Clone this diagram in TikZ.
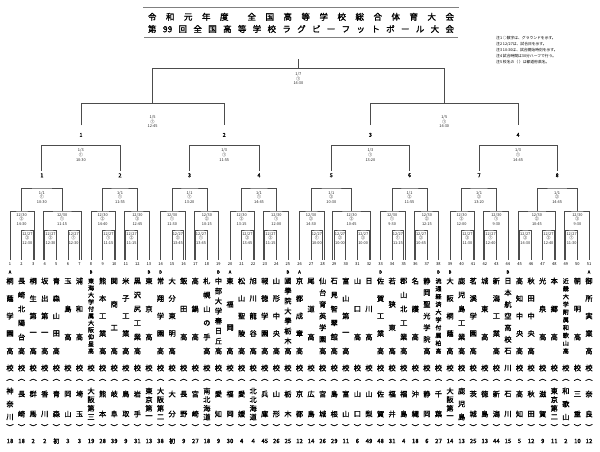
\documentclass[tikz,border=0pt]{standalone}
\usepackage{fontspec}
\newfontfamily\jp{Noto Sans CJK JP}
\newfontfamily\jpb{Noto Sans CJK JP}[FakeBold=1.5]
\usetikzlibrary{positioning, calc}

\def\nmfs{7.2}
\tikzset{
	brk/.style={draw=black!70, line width=0.7pt},
	info/.style={font=\jp\fontsize{3.9}{4.6}\selectfont, align=center, inner sep=0pt, text=black!85},
	lbl/.style={font=\jpb\fontsize{5.5}{6}\selectfont, inner sep=0.5pt},
	tnum/.style={font=\jp\fontsize{4}{4}\selectfont, inner sep=0pt},
	seedmark/.style={font=\jpb\fontsize{4.2}{4.2}\selectfont, inner sep=0pt},
	nm/.style={font=\jpb\fontsize{\nmfs}{\nmfs}\selectfont, inner sep=0pt},
	paren/.style={font=\jpb\fontsize{7.2}{7.2}\selectfont, inner sep=0pt, rotate=-90},
	cnt/.style={font=\jpb\fontsize{6}{6}\selectfont, inner sep=0pt},
	ttl/.style={font=\jpb\fontsize{8.5}{9}\selectfont, inner sep=0pt},
	declare function={tx(\i)=10+11.58*(\i-1);},
}

% one column: number, seed, name, tail, prefecture, appearances
\newcommand\school[6]{%
	\coordinate (t#1) at ({tx(#1)},260);
	\node[tnum] (n#1) at ({tx(#1)},264.5) {#1};
	\node[seedmark] (sd#1) at ({tx(#1)},272) {#2};
	\foreach \c [count=\k] in {#3} {\xdef\nc{\k}}%
	\ifnum\nc>8 \gdef\nmfs{6}\else\gdef\nmfs{7.2}\fi
	\pgfmathsetmacro\stp{min(70/(\nc-1),28)}%
	\foreach \c [count=\k] in {#3}
		{\node[nm] (nm#1-\k) at ({tx(#1)},{281+(\k-1)*\stp}) {\c};}%
	\gdef\nmfs{7.2}%
	\node[nm] (tl#1) at ({tx(#1)},368) {#4};
	\node[paren] (pl#1) at ({tx(#1)},377.5) {（};
	\foreach \c [count=\k] in {#5} {\xdef\np{\k}}%
	\pgfmathsetmacro\pst{min(26/(\np-1),20)}%
	\foreach \c [count=\k] in {#5}
		{\node[nm] (pf#1-\k) at ({tx(#1)},{404-(\np-1)*\pst/2+(\k-1)*\pst}) {\c};}%
	\node[paren] (pr#1) at ({tx(#1)},427.5) {）};
	\node[cnt] (c#1) at ({tx(#1)},441) {#6};
}

\begin{document}
\begin{tikzpicture}[x=1pt, y=-1pt]
	\useasboundingbox (0,0) rectangle (600,452);

	% title
	\node[draw=black!50, double, double distance=0.6pt, line width=0.5pt,
		minimum width=315pt, minimum height=30pt, inner sep=0pt] (tbox) at (300.8,23.3) {};
	\node[ttl] (ttl1) at (301,16.8)
		{\makebox[306pt][s]{令 和 元 年 度 \ 全 国 高 等 学 校 総 合 体 育 大 会}};
	\node[ttl] (ttl2) at (301,29)
		{\makebox[306pt][s]{第 99 回 全 国 高 等 学 校 ラ グ ビ ー フ ッ ト ボ ー ル 大 会}};
	\node[font=\jp\fontsize{3.8}{6}\selectfont, align=left, anchor=north west, inner sep=0pt]
		(notes) at (496,36.5) {注1 ○数字は、グラウンドを示す。\\
		注2 12/27は、試合日を示す。\\
		注3 10:30は、試合開始時刻を示す。\\
		注4 試合時間は30分ハーフで行う。\\
		注5 校名の（ ）は都道府県名。};

	% schools
	\school{1}{A}{桐,蔭,学,園,高}{校}{神,奈,川}{18}
	\school{2}{}{長,崎,北,陽,台,高}{校}{長,崎}{18}
	\school{3}{}{桐,生,第,一,高}{校}{群,馬}{2}
	\school{4}{}{坂,出,第,一,高}{校}{香,川}{2}
	\school{5}{}{青,森,山,田,高}{校}{青,森}{初}
	\school{6}{}{玉,島,高}{校}{岡,山}{3}
	\school{7}{}{浦,和,高}{校}{埼,玉}{3}
	\school{8}{B}{東,海,大,学,付,属,大,阪,仰,星,高}{校}{大,阪,第,三}{19}
	\school{9}{}{熊,本,工,業,高}{校}{熊,本}{28}
	\school{10}{}{関,商,工,高}{校}{岐,阜}{39}
	\school{11}{}{米,子,工,業,高}{校}{鳥,取}{9}
	\school{12}{}{黒,沢,尻,工,業,高}{校}{岩,手}{31}
	\school{13}{B}{東,京,高}{校}{東,京,第,一}{13}
	\school{14}{B}{常,翔,学,園,高}{校}{大,阪,第,二}{38}
	\school{15}{}{大,分,東,明,高}{校}{大,分}{初}
	\school{16}{}{飯,田,高}{校}{長,野}{9}
	\school{17}{}{高,鍋,高}{校}{宮,崎}{27}
	\school{18}{}{札,幌,山,の,手,高}{校}{南,北,海,道}{18}
	\school{19}{B}{中,部,大,学,春,日,丘,高}{校}{愛,知}{9}
	\school{20}{A}{東,福,岡,高}{校}{福,岡}{30}
	\school{21}{}{松,山,聖,陵,高}{校}{愛,媛}{4}
	\school{22}{}{旭,川,龍,谷,高}{校}{北,北,海,道}{4}
	\school{23}{}{報,徳,学,園,高}{校}{兵,庫}{45}
	\school{24}{}{山,形,中,央,高}{校}{山,形}{26}
	\school{25}{B}{國,學,院,大,學,栃,木,高}{校}{栃,木}{25}
	\school{26}{A}{京,都,成,章,高}{校}{京,都}{12}
	\school{27}{}{尾,道,高}{校}{広,島}{14}
	\school{28}{}{仙,台,育,英,学,園,高}{校}{宮,城}{26}
	\school{29}{}{石,見,智,翠,館,高}{校}{島,根}{29}
	\school{30}{}{富,山,第,一,高}{校}{富,山}{11}
	\school{31}{}{山,口,高}{校}{山,口}{6}
	\school{32}{}{日,川,高}{校}{山,梨}{49}
	\school{33}{B}{佐,賀,工,業,高}{校}{佐,賀}{48}
	\school{34}{}{若,狭,東,高}{校}{福,井}{31}
	\school{35}{}{郡,山,北,工,業,高}{校}{福,島}{4}
	\school{36}{}{名,護,高}{校}{沖,縄}{18}
	\school{37}{}{静,岡,聖,光,学,院,高}{校}{静,岡}{6}
	\school{38}{B}{流,通,経,済,大,学,付,属,柏,高}{校}{千,葉}{27}
	\school{39}{B}{大,阪,桐,蔭,高}{校}{大,阪,第,一}{14}
	\school{40}{}{鹿,児,島,工,業,高}{校}{鹿,児,島}{13}
	\school{41}{}{茗,溪,学,園,高}{校}{茨,城}{25}
	\school{42}{}{城,東,高}{校}{徳,島}{13}
	\school{43}{}{新,潟,工,業,高}{校}{新,潟}{44}
	\school{44}{B}{日,本,航,空,高,校,石}{川}{石,川}{15}
	\school{45}{}{高,知,中,央,高}{校}{高,知}{5}
	\school{46}{}{秋,田,中,央,高}{校}{秋,田}{12}
	\school{47}{}{光,泉,高}{校}{滋,賀}{9}
	\school{48}{}{本,郷,高}{校}{東,京,第,二}{11}
	\school{49}{}{近,畿,大,学,附,属,和,歌,山,高}{校}{和,歌,山}{2}
	\school{50}{}{朝,明,高}{校}{三,重}{10}
	\school{51}{A}{御,所,実,業,高}{校}{奈,良}{12}

	% first round 12/27
	\foreach \n/\a/\b/\tm/\g in {1/2/3/12:30/②, 2/4/5/12:30/③, 3/6/7/12:30/①,
		4/9/10/11:15/①, 5/11/12/11:15/②, 6/15/16/13:45/③, 7/17/18/13:45/①,
		8/21/22/13:45/②, 9/23/24/11:15/③, 10/27/28/10:00/①, 11/29/30/10:00/②,
		12/31/32/10:00/③, 13/34/35/11:15/①, 14/36/37/10:45/②, 15/40/41/11:30/③,
		16/42/43/12:40/①, 17/45/46/14:30/②, 18/47/48/12:40/③, 19/49/50/11:30/①}{
		\coordinate (f\n) at ({(tx(\a)+tx(\b))/2},230);
		\draw[brk] (t\a) |- (f\n) -| (t\b);
		\node[info, below=2pt of f\n] (fi\n) {12/27\\\g\\\tm};
	}

	% second round 12/30
	\foreach \n/\a/\b/\la/\rb/\tm/\g in {1/1/3/0/1.4/14:30/③, 2/4/7/-1.4/1.4/11:15/①,
		3/8/10/0/1.4/14:40/②, 4/11/13/-1.4/0/12:45/③, 5/14/16/0/1.4/11:30/①,
		6/17/19/-1.4/0/10:15/②, 7/20/22/0/1.4/13:15/③, 8/23/25/-1.4/0/12:00/①,
		9/26/28/0/1.4/14:30/②, 10/29/32/-1.4/1.4/10:45/③, 11/33/35/0/1.4/9:30/①,
		12/36/38/-1.4/0/12:15/②, 13/39/41/0/1.4/12:00/③, 14/42/44/-1.4/0/9:30/①,
		15/45/48/-1.4/1.4/10:45/②, 16/49/51/-1.4/0/9:30/③}{
		\coordinate (s\n) at ({(tx(\a)+tx(\b))/2},211);
		\draw[brk] ([xshift=\la pt]t\a) |- (s\n) -| ([xshift=\rb pt]t\b);
		\node[info, below=2pt of s\n] (si\n) {12/30\\\g\\\tm};
	}

	% third round 1/1
	\foreach \n/\l/\r/\tm/\g in {1/1/2/10:30/①, 2/3/4/11:55/①, 3/5/6/13:20/①,
		4/7/8/14:45/①, 5/9/10/10:30/②, 6/11/12/11:55/②, 7/13/14/13:20/②,
		8/15/16/14:45/②}{
		\coordinate (r\n) at ($(s\l)!0.5!(s\r)+(0,-23)$);
		\draw[brk] (s\l) |- (r\n) -| (s\r);
		\node[info, below=3pt of r\n] (ri\n) {1/1\\\g\\\tm};
		\node[lbl, above=10pt of r\n] (bl\n) {\n};
	}

	% quarter finals 1/3
	\foreach \n/\l/\r/\tm in {1/1/2/10:30, 2/3/4/11:55, 3/5/6/13:20, 4/7/8/14:45}{
		\coordinate (q\n) at ($(bl\l.north)!0.5!(bl\r.north)+(0,-27)$);
		\draw[brk, shorten <=2pt, shorten >=2pt] (bl\l.north) |- (q\n) -| (bl\r.north);
		\node[info, below=3pt of q\n] (qi\n) {1/3\\①\\\tm};
		\node[lbl, above=8pt of q\n] (ql\n) {\n};
	}

	% semi finals 1/5
	\foreach \n/\l/\r/\tm in {1/1/2/12:45, 2/3/4/14:30}{
		\coordinate (h\n) at ($(ql\l.north)!0.5!(ql\r.north)+(0,-29)$);
		\draw[brk, shorten <=7pt, shorten >=7pt] (ql\l.north) |- (h\n) -| (ql\r.north);
		\node[info, below=12pt of h\n] (hi\n) {1/5\\①\\\tm};
	}

	% final 1/7
	\coordinate (fin) at ($(h1)!0.5!(h2)+(0,-35)$);
	\coordinate (champ) at ($(fin)+(0,-9)$);
	\draw[brk] (h1) |- (fin) -| (h2);
	\draw[brk] (fin) -- (champ);
	\node[info, below=4pt of fin] (fini) {1/7\\①\\14:30};
\end{tikzpicture}
\end{document}
